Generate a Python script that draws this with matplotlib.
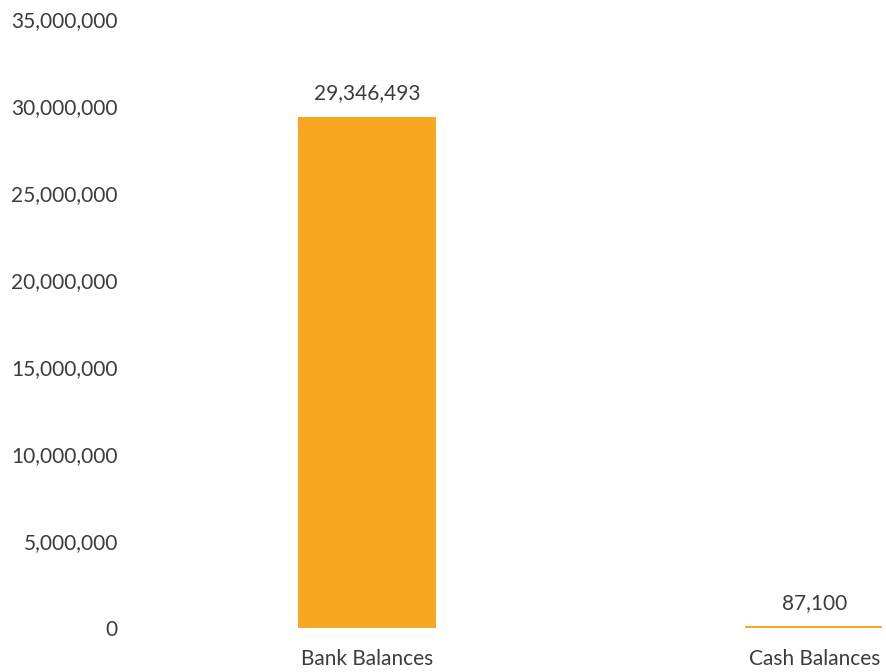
import matplotlib
matplotlib.use("Agg")
import matplotlib.pyplot as plt
from matplotlib.ticker import FuncFormatter

categories = ["Bank Balances", "Cash Balances"]
values = [29346493, 87100]
yticks = [0, 5000000, 10000000, 15000000, 20000000, 25000000, 30000000, 35000000]

plt.rcParams['font.family'] = ['Lato', 'DejaVu Sans']
fig = plt.figure(figsize=(8.86, 6.72), dpi=100)
W, H = 886, 672
left_px, right_px = 143, 882
bottom_px, top_px = 628, 19
ax = fig.add_axes([left_px / W, (H - bottom_px) / H, (right_px - left_px) / W, (bottom_px - top_px) / H])

x = list(range(len(categories)))
bars = ax.bar(x, values, width=0.31, color='#F8A723', linewidth=0)
for xi, v in zip(x, values):
    ax.annotate(f"{v:,}", (xi, v), xytext=(0, 10), textcoords='offset points',
                ha='center', va='bottom', fontsize=15, color='#3c3c3c')

ax.set_xlim(-0.5, 1.15)
ax.set_ylim(0, 35000000)
ax.set_yticks(yticks)
ax.yaxis.set_major_formatter(FuncFormatter(lambda v, p: f"{int(v):,}"))
ax.set_xticks(x)
ax.set_xticklabels(categories)
ax.tick_params(axis='both', length=0, labelsize=15, colors='#3c3c3c')
ax.tick_params(axis='y', pad=18)
ax.tick_params(axis='x', pad=15)
for s in ax.spines.values():
    s.set_visible(False)

fig.savefig("out.png", dpi=100)
